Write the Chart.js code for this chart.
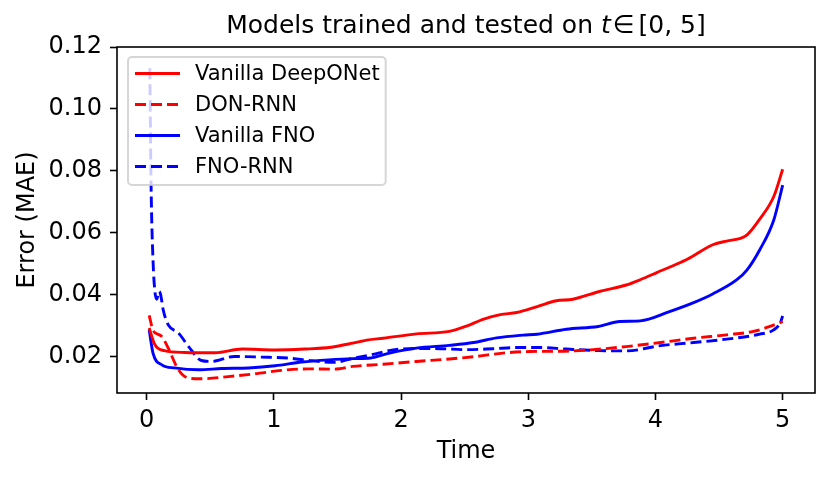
<!DOCTYPE html>
<html>
<head>
<meta charset="utf-8">
<script src="https://cdn.jsdelivr.net/npm/chart.js@4.4.1/dist/chart.umd.min.js"></script>
<style>
html,body{margin:0;padding:0;background:#fff;}
#wrap{width:830px;height:480px;}
</style>
</head>
<body>
<div id="wrap"><canvas id="c" width="830" height="480"></canvas></div>
<script>
// ---- data ----
const titleMain = "Models trained and tested on ";
const xLabel = "Time";
const yLabel = "Error (MAE)";
const xTicks = [0, 1, 2, 3, 4, 5];
const yTicks = [0.02, 0.04, 0.06, 0.08, 0.10, 0.12];

const seriesNames = ["Vanilla DeepONet", "DON-RNN", "Vanilla FNO", "FNO-RNN"];

const tDeepONet = [0.02, 0.065, 0.14, 0.30, 0.54, 0.75, 1.01, 1.24, 1.45, 1.62, 1.73, 1.86, 2.12, 2.38, 2.52, 2.65, 2.78, 2.91, 3.07, 3.22, 3.35, 3.56, 3.77, 3.88, 4.01, 4.25, 4.45, 4.56, 4.66, 4.72, 4.82, 4.93, 5.0];
const eDeepONet = [0.0292, 0.0238, 0.0219, 0.0213, 0.0212, 0.0224, 0.0221, 0.0224, 0.0230, 0.0243, 0.0253, 0.0259, 0.0273, 0.0281, 0.0299, 0.0321, 0.0335, 0.0342, 0.0361, 0.0380, 0.0385, 0.0410, 0.0431, 0.0448, 0.0471, 0.0514, 0.0561, 0.0573, 0.0581, 0.0593, 0.0644, 0.0717, 0.0805];

const tDonRnn = [0.02, 0.05, 0.09, 0.12, 0.17, 0.25, 0.33, 0.43, 0.64, 0.85, 1.06, 1.27, 1.48, 1.62, 1.86, 2.12, 2.38, 2.59, 2.80, 3.01, 3.28, 3.51, 3.77, 4.04, 4.30, 4.56, 4.77, 4.90, 5.0];
const eDonRnn = [0.0333, 0.0285, 0.0272, 0.0264, 0.0227, 0.0157, 0.0130, 0.0128, 0.0135, 0.0144, 0.0155, 0.0160, 0.0159, 0.0168, 0.0175, 0.0184, 0.0192, 0.0200, 0.0211, 0.0216, 0.0217, 0.0222, 0.0232, 0.0245, 0.0259, 0.0270, 0.0281, 0.0297, 0.0313];

const tFno = [0.02, 0.05, 0.12, 0.22, 0.41, 0.59, 0.80, 1.01, 1.22, 1.43, 1.62, 1.76, 1.91, 2.12, 2.38, 2.57, 2.75, 2.96, 3.07, 3.30, 3.55, 3.72, 3.88, 4.11, 4.30, 4.45, 4.64, 4.72, 4.82, 4.93, 5.0];
const eFno = [0.0286, 0.0211, 0.0173, 0.0163, 0.0157, 0.0161, 0.0163, 0.0170, 0.0182, 0.0189, 0.0193, 0.0195, 0.0211, 0.0227, 0.0236, 0.0245, 0.0260, 0.0269, 0.0272, 0.0288, 0.0297, 0.0313, 0.0315, 0.0345, 0.0374, 0.0402, 0.0448, 0.0480, 0.0545, 0.0641, 0.0754];

const tFnoRnn = [0.025, 0.035, 0.05, 0.065, 0.08, 0.097, 0.11, 0.13, 0.17, 0.25, 0.33, 0.43, 0.51, 0.69, 0.90, 1.11, 1.30, 1.48, 1.60, 1.76, 1.99, 2.25, 2.52, 2.72, 2.91, 3.09, 3.30, 3.55, 3.77, 4.04, 4.30, 4.56, 4.82, 4.93, 4.98, 5.0];
const eFnoRnn = [0.1131, 0.0750, 0.0512, 0.0410, 0.0385, 0.0410, 0.0400, 0.0351, 0.0302, 0.0276, 0.0232, 0.0187, 0.0184, 0.0200, 0.0198, 0.0195, 0.0186, 0.0181, 0.0192, 0.0205, 0.0224, 0.0226, 0.0222, 0.0225, 0.0229, 0.0229, 0.0224, 0.0219, 0.0218, 0.0235, 0.0245, 0.0256, 0.0272, 0.0286, 0.0308, 0.0331];

// ---- helpers ----
function pts(ts, es) { return ts.map((t, i) => ({ x: t, y: es[i] })); }
const FONT = "'DejaVu Sans', sans-serif";
const DASH = [11, 5];

const datasets = [
  { label: seriesNames[0], data: pts(tDeepONet, eDeepONet), borderColor: '#ff0000', borderDash: [] },
  { label: seriesNames[1], data: pts(tDonRnn, eDonRnn), borderColor: '#ff0000', borderDash: DASH },
  { label: seriesNames[2], data: pts(tFno, eFno), borderColor: '#0000ff', borderDash: [] },
  { label: seriesNames[3], data: pts(tFnoRnn, eFnoRnn), borderColor: '#0000ff', borderDash: DASH }
].map(d => Object.assign(d, {
  borderWidth: 2.9, pointRadius: 0, fill: false,
  cubicInterpolationMode: 'monotone', borderCapStyle: 'butt', borderJoinStyle: 'round'
}));

const framePlugin = {
  id: 'frame',
  afterDatasetsDraw(chart) {
    const ctx = chart.ctx, a = chart.chartArea;
    // legend (matplotlib style, upper left)
    ctx.save();
    const fs = 21;
    ctx.font = fs + "px " + FONT;
    let maxW = 0;
    chart.data.datasets.forEach(d => { maxW = Math.max(maxW, ctx.measureText(d.label).width); });
    const bx = a.left + 11, by = a.top + 10;
    const textX = bx + 67;
    const bw = textX + maxW + 6 - bx, bh = 128;
    const r = 4;
    ctx.beginPath();
    ctx.moveTo(bx + r, by);
    ctx.lineTo(bx + bw - r, by); ctx.arcTo(bx + bw, by, bx + bw, by + r, r);
    ctx.lineTo(bx + bw, by + bh - r); ctx.arcTo(bx + bw, by + bh, bx + bw - r, by + bh, r);
    ctx.lineTo(bx + r, by + bh); ctx.arcTo(bx, by + bh, bx, by + bh - r, r);
    ctx.lineTo(bx, by + r); ctx.arcTo(bx, by, bx + r, by, r);
    ctx.closePath();
    ctx.fillStyle = 'rgba(255,255,255,0.8)';
    ctx.fill();
    ctx.strokeStyle = 'rgba(204,204,204,0.8)';
    ctx.lineWidth = 2;
    ctx.stroke();
    chart.data.datasets.forEach((d, i) => {
      const y = by + 16.5 + i * 31;
      ctx.beginPath();
      ctx.setLineDash(d.borderDash);
      ctx.strokeStyle = d.borderColor;
      ctx.lineWidth = d.borderWidth;
      ctx.moveTo(bx + 7, y); ctx.lineTo(bx + 52, y);
      ctx.stroke();
      ctx.setLineDash([]);
      ctx.fillStyle = '#000';
      ctx.textBaseline = 'middle';
      ctx.textAlign = 'left';
      ctx.fillText(d.label, textX, y + 1);
    });
    ctx.restore();
  },
  afterDraw(chart) {
    const ctx = chart.ctx, a = chart.chartArea;
    ctx.save();
    ctx.strokeStyle = '#000';
    ctx.lineWidth = 1.6;
    ctx.strokeRect(a.left, a.top, a.right - a.left, a.bottom - a.top);
    // title with math part: t ∈ [0, 5]
    const fs = 25;
    const normal = fs + "px " + FONT;
    const ital = "italic " + fs + "px " + FONT;
    const segs = [
      { s: titleMain, f: normal, gap: 0 },
      { s: "t", f: ital, gap: 2 },
      { s: "\u2208", f: normal, gap: 4 },
      { s: "[0, 5]", f: normal, gap: 0 }
    ];
    let total = 0;
    segs.forEach(g => { ctx.font = g.f; g.w = ctx.measureText(g.s).width; total += g.w + g.gap; });
    let x = (a.left + a.right) / 2 - total / 2;
    ctx.fillStyle = '#000';
    ctx.textBaseline = 'alphabetic';
    ctx.textAlign = 'left';
    segs.forEach(g => { ctx.font = g.f; ctx.fillText(g.s, x, 33); x += g.w + g.gap; });
    ctx.restore();
  }
};

new Chart(document.getElementById('c'), {
  type: 'line',
  data: { datasets },
  options: {
    responsive: false,
    animation: false,
    devicePixelRatio: 1,
    layout: { padding: { left: 0, right: 15, top: 47, bottom: 0 } },
    plugins: { legend: { display: false }, title: { display: false }, tooltip: { enabled: false } },
    scales: {
      x: {
        type: 'linear', min: -0.233, max: 5.254,
        afterFit(s) { s.height = 87; },
        afterBuildTicks(s) { s.ticks = xTicks.map(v => ({ value: v })); },
        grid: { display: true, drawOnChartArea: false, drawTicks: true, tickLength: 7, tickWidth: 1.6, tickColor: '#000' },
        border: { display: false },
        ticks: { color: '#000', font: { family: FONT, size: 24 }, padding: 6, maxRotation: 0, autoSkip: false, callback: v => String(v) },
        title: { display: true, text: xLabel, color: '#000', font: { family: FONT, size: 24 }, padding: { top: 0, bottom: 14 } }
      },
      y: {
        type: 'linear', min: 0.0082, max: 0.12,
        afterFit(s) { s.width = 117; },
        afterBuildTicks(s) { s.ticks = yTicks.map(v => ({ value: v })); },
        grid: { display: true, drawOnChartArea: false, drawTicks: true, tickLength: 7, tickWidth: 1.6, tickColor: '#000' },
        border: { display: false },
        ticks: { color: '#000', font: { family: FONT, size: 24 }, padding: 8, autoSkip: false, callback: v => Number(v).toFixed(2) },
        title: { display: true, text: yLabel, color: '#000', font: { family: FONT, size: 24 }, padding: { top: 13, bottom: 0 } }
      }
    }
  },
  plugins: [framePlugin]
});
</script>
</body>
</html>
